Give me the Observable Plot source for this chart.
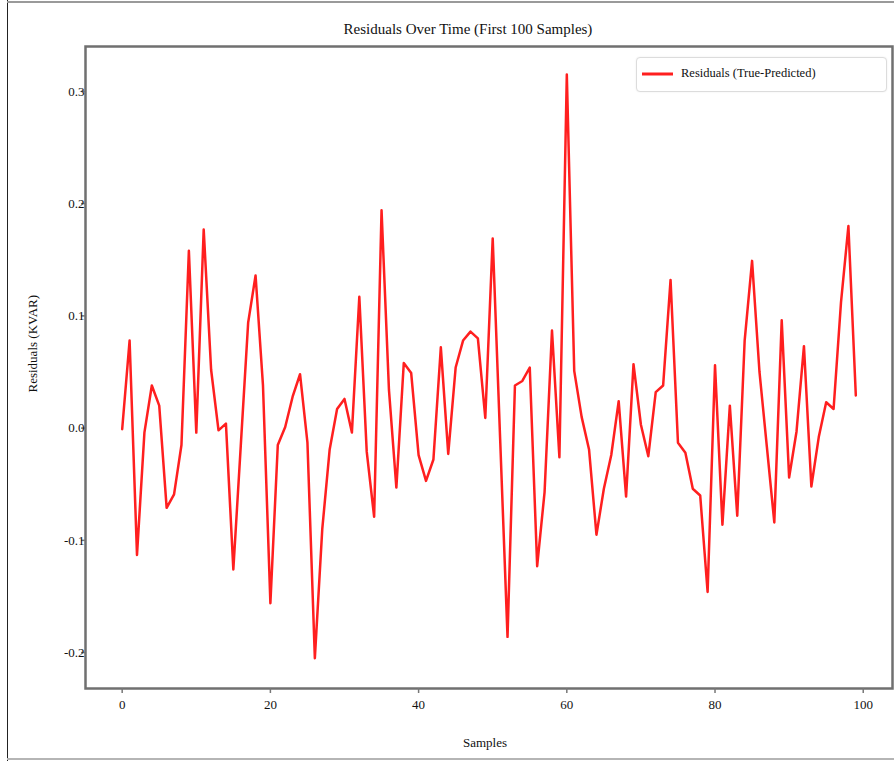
<!DOCTYPE html>
<html>
<head>
<meta charset="utf-8">
<script src="https://cdn.jsdelivr.net/npm/d3@7"></script>
<script src="https://cdn.jsdelivr.net/npm/@observablehq/plot@0.6"></script>
<style>
  html, body { margin: 0; padding: 0; background: #fff; }
  #wrap { position: relative; width: 894px; height: 761px; overflow: hidden; font-family: "Liberation Serif", "Times New Roman", serif; }
  #title { position: absolute; top: 21px; left: 468px; transform: translateX(-50%); font-size: 15px; white-space: nowrap; color: #111; }
  #chart { position: absolute; top: 40px; left: 0; }
  #legend { position: absolute; left: 636px; top: 57px; width: 251px; height: 35px; box-sizing: border-box; border: 1.5px solid #dcdcdc; border-radius: 4px; box-shadow: 0 0 2px rgba(0,0,0,0.08); background: #fff; }
  #legend svg { position: absolute; left: 4px; top: 13px; }
  #legend span { position: absolute; left: 44px; top: 8px; font-size: 12.5px; color: #111; white-space: nowrap; }
  .edge { position: absolute; }
</style>
</head>
<body>
<div id="wrap">
  <div class="edge" style="left:7px; top:0; width:1px; height:761px; background:#222;"></div>
  <div class="edge" style="left:7px; top:1px; width:887px; height:2px; background:#9a9a9a;"></div>
  <div class="edge" style="left:7px; top:758px; width:887px; height:2px; background:#b5b5b5;"></div>
  <div id="title">Residuals Over Time (First 100 Samples)</div>
  <div id="chart"></div>
  <div id="legend"><svg width="34" height="6"><line x1="1" y1="3" x2="32" y2="3" stroke="#ff1f1f" stroke-width="3"/></svg><span>Residuals (True-Predicted)</span></div>
</div>
<script>
const residuals = [
  -0.001, 0.078, -0.113, -0.004, 0.038, 0.020, -0.071, -0.059, -0.015, 0.158,
  -0.004, 0.177, 0.052, -0.002, 0.004, -0.126, -0.016, 0.094, 0.136, 0.038,
  -0.156, -0.015, 0.001, 0.028, 0.048, -0.013, -0.205, -0.090, -0.019, 0.017,
  0.026, -0.004, 0.117, -0.021, -0.079, 0.194, 0.034, -0.053, 0.058, 0.049,
  -0.024, -0.047, -0.028, 0.072, -0.023, 0.054, 0.078, 0.086, 0.080, 0.009,
  0.169, -0.009, -0.186, 0.038, 0.042, 0.054, -0.123, -0.057, 0.087, -0.026,
  0.315, 0.051, 0.010, -0.019, -0.095, -0.054, -0.024, 0.024, -0.061, 0.057,
  0.003, -0.025, 0.032, 0.038, 0.132, -0.013, -0.022, -0.054, -0.060, -0.146,
  0.056, -0.086, 0.020, -0.078, 0.078, 0.149, 0.050, -0.017, -0.084, 0.096,
  -0.044, -0.003, 0.073, -0.052, -0.008, 0.023, 0.017, 0.112, 0.180, 0.029
];
const xTicks = [0, 20, 40, 60, 80, 100];
const yTicks = [-0.2, -0.1, 0.0, 0.1, 0.2, 0.3];
const xLabel = "Samples";
const yLabel = "Residuals (KVAR)";

const data = residuals.map((r, i) => ({sample: i, residual: r}));

const chart = Plot.plot({
  width: 894,
  height: 721,
  marginTop: 6,
  marginLeft: 85,
  marginRight: 2,
  marginBottom: 73,
  x: {domain: [-4.95, 103.95]},
  y: {domain: [-0.232, 0.340]},
  style: {fontFamily: "'Liberation Serif', 'Times New Roman', serif", fontSize: "13px", background: "transparent", color: "#111"},
  marks: [
    Plot.line(data, {x: "sample", y: "residual", stroke: "#ff1f1f", strokeWidth: 2.5, strokeLinejoin: "round"}),
    Plot.frame({stroke: "#707070", strokeWidth: 2.5}),
    Plot.axisX({ticks: xTicks, tickSize: 5, tickPadding: 6, stroke: "#777", strokeWidth: 1.5, label: null, fontSize: 13}),
    Plot.axisY({ticks: yTicks, tickSize: 4, tickPadding: -3, stroke: "#777", strokeWidth: 1.5, tickFormat: d => d.toFixed(1), label: null, fontSize: 13}),
    Plot.text([xLabel], {frameAnchor: "bottom", dy: 54, dx: -4, text: d => d, fontSize: 13, lineAnchor: "middle"}),
    Plot.text([yLabel], {frameAnchor: "left", dx: -53, dy: 25, text: d => d, rotate: -90, fontSize: 13, lineAnchor: "middle"})
  ]
});
document.getElementById("chart").appendChild(chart);
</script>
</body>
</html>
